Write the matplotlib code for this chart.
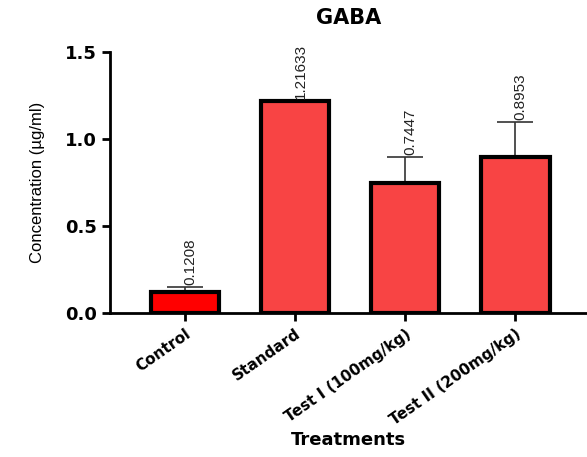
import matplotlib
matplotlib.use("Agg")
import matplotlib.pyplot as plt

# Data
groups = ["Control", "Standard", "Test I (100mg/kg)", "Test II (200mg/kg)"]
means = [0.1208, 1.21633, 0.7447, 0.8953]
errors = [0.03, 0.005, 0.155, 0.205]
labels = ["0.1208", "1.21633", "0.7447", "0.8953"]
colors = ["#FF0000", "#F84444", "#F84444", "#F84444"]

fig = plt.figure(figsize=(5.87, 4.57), dpi=100)
ax = fig.add_axes([0.187, 0.315, 0.813, 0.571])

x = list(range(len(groups)))
ax.bar(x, means, width=0.62, color=colors, edgecolor="black", linewidth=3, zorder=2)
ax.errorbar(x, means, yerr=[[0] * len(errors), errors], fmt="none", ecolor="#333333",
            elinewidth=1.2, capsize=13, capthick=1.2, zorder=1)

for xi, m, e, lab in zip(x, means, errors, labels):
    ax.text(xi + 0.05, m + e + 0.01, lab, rotation=90, ha="center", va="bottom",
            fontsize=11, family="Liberation Sans", color="#222222")

ax.set_xlim(-0.68, 3.65)
ax.set_ylim(0, 1.5)
ax.set_yticks([0.0, 0.5, 1.0, 1.5])
ax.set_yticklabels(["0.0", "0.5", "1.0", "1.5"], fontsize=13, fontweight="bold")
ax.set_xticks(x)
ax.set_xticklabels(groups, rotation=35, ha="right", rotation_mode="anchor",
                   fontsize=11, fontweight="bold")
ax.tick_params(axis="both", width=2, length=6, direction="out")

for s in ["top", "right"]:
    ax.spines[s].set_visible(False)
for s in ["left", "bottom"]:
    ax.spines[s].set_linewidth(2)

ax.set_ylabel("Concentration (µg/ml)", fontsize=12, family="Liberation Sans", labelpad=14)
ax.set_xlabel("Treatments", fontsize=13, fontweight="bold", labelpad=2)
ax.set_title("GABA", fontsize=15, fontweight="bold", pad=20)

fig.savefig("out.png", dpi=100)
